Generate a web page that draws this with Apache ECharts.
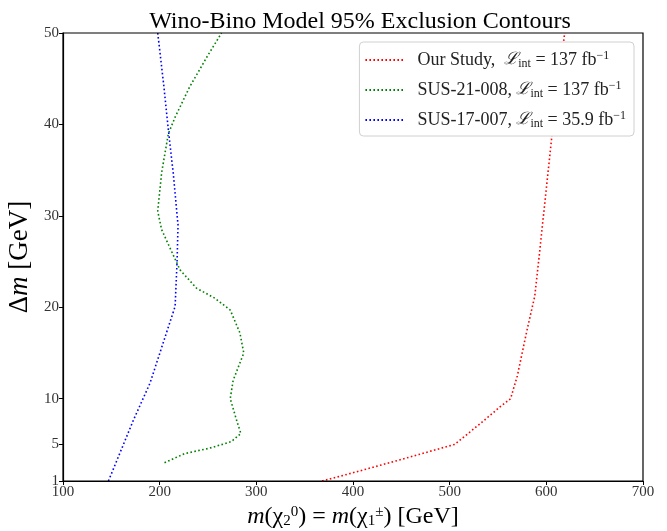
<!DOCTYPE html>
<html>
<head>
<meta charset="utf-8">
<script src="https://cdn.jsdelivr.net/npm/echarts@6/dist/echarts.min.js"></script>
<style>html,body{margin:0;padding:0;background:#fff}#c{width:667px;height:531px}</style>
</head>
<body>
<div id="c"></div>
<script>
// Data: [m(chi), delta m]
const ourStudy = [[368,1],[400,1.9],[448,3.3],[505,5],[532,7.3],[552,9.1],[563,10],[570,12.5],[580,17.5],[588,21.2],[592,25],[597,30],[606,39],[619,50]];
const sus21008 = [[205,3],[226,4],[252,4.6],[274,5.3],[284,6.2],[280,7.5],[273,10],[276,12],[287,15],[283,17.2],[273,19.7],[257,21],[238,22.1],[221,24.1],[202,28.5],[198,30.5],[202,34.7],[209,39],[216,40.8],[231,44.1],[249,47.4],[264,50]];
const sus17007 = [[147,1],[173,7.7],[190,11.7],[207,17.2],[216,20.1],[218,25],[219,29],[214,34.7],[209,39.4],[204,44.5],[198,50]];
const yTicks = [1,5,10,20,30,40,50];
const seriesNames = ['Our Study', 'SUS-21-008', 'SUS-17-007'];
const lumis = ['137', '137', '35.9'];
const seriesColors = ['#ff0000', '#008000', '#0000ff'];

const serif = "'Liberation Serif', 'DejaVu Serif', serif";
const chart = echarts.init(document.getElementById('c'));
const dataSets = [ourStudy, sus21008, sus17007];

chart.setOption({
  animation: false,
  backgroundColor: '#fff',
  title: {
    text: 'Wino-Bino Model 95% Exclusion Contours',
    left: 355, top: 5, textAlign: 'center',
    textStyle: {fontFamily: serif, fontWeight: 'normal', fontSize: 24, color: '#000'}
  },
  grid: {left: 63, right: 24, top: 33, bottom: 50, containLabel: false, outerBoundsMode: 'none'},
  legend: {
    right: 33, top: 42, orient: 'vertical',
    backgroundColor: '#fff', borderColor: '#d0d0d0', borderWidth: 1, borderRadius: 4,
    padding: [8, 8, 6, 5], itemGap: 10, itemWidth: 38, itemHeight: 10,
    data: seriesNames,
    itemStyle: {opacity: 0},
    formatter: function (name) {
      const i = seriesNames.indexOf(name);
      const sep = i === 0 ? ',  ' : ', ';
      return '{t|' + name + sep + '}{L|ℒ}{s|int}{t| = ' + lumis[i] + ' fb}{p|−1}';
    },
    textStyle: {
      fontFamily: serif, fontSize: 18, color: '#222', padding: [0,0,0,9],
      rich: {
        t: {fontFamily: serif, fontSize: 18, color: '#222'},
        L: {fontFamily: "'DejaVu Serif', serif", fontStyle: 'italic', fontSize: 17, color: '#222'},
        s: {fontFamily: serif, fontSize: 12, color: '#222', verticalAlign: 'bottom', padding: [6,0,0,0]},
        p: {fontFamily: serif, fontSize: 12, color: '#222', verticalAlign: 'top', padding: [0,0,8,0]}
      }
    }
  },
  xAxis: {
    type: 'value', min: 100, max: 700, interval: 100,
    name: '{i|m}{t|(χ}{b|2}{u|0}{t|) = }{i|m}{t|(χ}{b|1}{u|±}{t|) [GeV]}',
    nameLocation: 'middle', nameGap: 24,
    nameTextStyle: {
      fontFamily: serif, fontSize: 24, color: '#000',
      rich: {
        i: {fontFamily: serif, fontStyle: 'italic', fontSize: 24, color: '#000'},
        t: {fontFamily: serif, fontSize: 24, color: '#000'},
        b: {fontFamily: serif, fontSize: 15, color: '#000', verticalAlign: 'bottom', padding: [9,0,0,0]},
        u: {fontFamily: serif, fontSize: 15, color: '#000', verticalAlign: 'top', padding: [0,0,9,0]}
      }
    },
    axisLine: {onZero: false, lineStyle: {color: '#000', width: 1.2}},
    axisTick: {show: true, length: 4, lineStyle: {color: '#000'}},
    axisLabel: {fontFamily: serif, fontSize: 15, color: '#333', margin: 4},
    splitLine: {show: false}
  },
  yAxis: {
    type: 'value', min: 1, max: 50,
    name: '{d|Δ}{i|m}{t| [GeV]}',
    nameLocation: 'middle', nameGap: 29, nameRotate: 90,
    nameTextStyle: {
      fontFamily: serif, fontSize: 27, color: '#000',
      rich: {
        d: {fontFamily: serif, fontSize: 27, color: '#000'},
        i: {fontFamily: serif, fontStyle: 'italic', fontSize: 27, color: '#000'},
        t: {fontFamily: serif, fontSize: 27, color: '#000'}
      }
    },
    axisLine: {onZero: false, lineStyle: {color: '#000', width: 1.2}},
    axisTick: {show: true, length: 4, customValues: yTicks, lineStyle: {color: '#000'}},
    axisLabel: {fontFamily: serif, fontSize: 15, color: '#333', margin: 4, customValues: yTicks},
    splitLine: {show: false}
  },
  graphic: [{
    type: 'rect', shape: {x: 63, y: 33, width: 580, height: 448},
    style: {fill: 'none', stroke: '#000', lineWidth: 1.2}, silent: true, z: 10
  }],
  series: seriesNames.map((n, i) => ({
    name: n, type: 'line', data: dataSets[i], showSymbol: false, symbol: 'none',
    clip: true,
    lineStyle: {color: seriesColors[i], width: 1.6, type: [1.6, 2.4], cap: 'butt'},
    itemStyle: {color: seriesColors[i]}
  }))
});
</script>
</body>
</html>
